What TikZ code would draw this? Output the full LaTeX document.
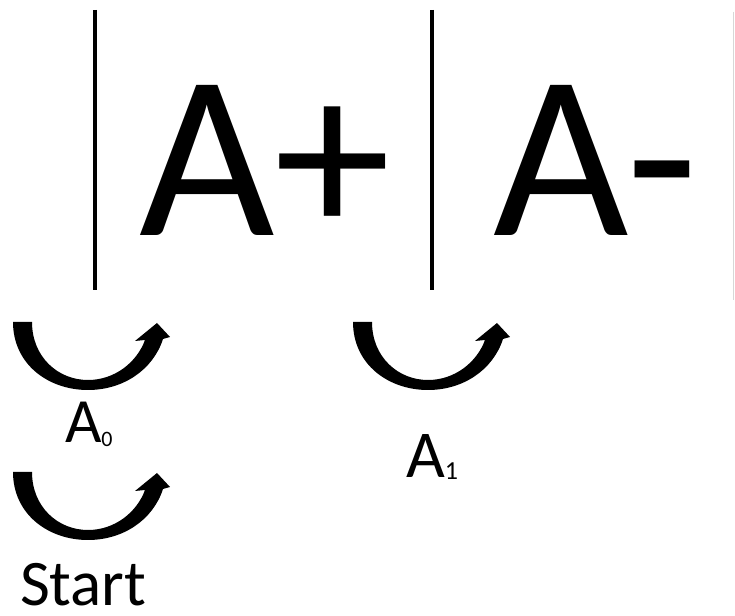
\documentclass[tikz,border=0pt]{standalone}
\usepackage{fontspec}
\setmainfont{Carlito}
\begin{document}
\begin{tikzpicture}[x=1pt,y=1pt,
  curvedarrow/.pic={
    \path[fill=fillColor] (0,0) .. controls (0,-42) and (35,-68) .. (75,-68) ..
      controls (110,-68) and (140,-48) .. (150,-17) --
      (157,-15) -- (144,-1) -- (122,-19) -- (132,-18) ..
      controls (124,-40) and (102,-58) .. (75,-58) ..
      controls (45,-58) and (19,-35) .. (19,0) -- cycle;
  },
  label/.style={text=drawColor,anchor=base west,inner sep=0pt,outer sep=0pt}]
\definecolor{fillColor}{RGB}{255,255,255}
\path[use as bounding box,fill=fillColor] (0,0) rectangle (735,615);
\definecolor{drawColor}{RGB}{0,0,0}

% separators
\path[draw=drawColor,line width= 3.6pt] ( 95,605) -- ( 95,325);
\path[draw=drawColor,line width= 3.6pt] (432,605) -- (432,325);
\definecolor{edgeColor}{RGB}{215,215,215}
\path[draw=edgeColor,line width= 1.2pt] (733.5,603) -- (733.5,315);

% states
\node[label,font=\fontsize{234}{234}\selectfont] (aplus) at (139,379) {A+};
\node[label,font=\fontsize{234}{234}\selectfont] (aminus) at (493,379) {A-};

% moves
\definecolor{fillColor}{RGB}{0,0,0}
\pic at ( 13,293) {curvedarrow};
\pic at (353,293) {curvedarrow};
\pic at ( 13,143) {curvedarrow};

\node[label,font=\fontsize{63}{63}\selectfont] (azero) at ( 65,172)
  {A{\fontsize{22}{22}\selectfont\raisebox{-4pt}{0}}};
\node[label,font=\fontsize{67}{67}\selectfont] (aone) at (406,137)
  {A{\fontsize{26}{26}\selectfont\raisebox{-2pt}{1}}};
\node[label,font=\fontsize{65}{65}\selectfont] (start) at ( 20, 10) {Start};
\end{tikzpicture}
\end{document}
